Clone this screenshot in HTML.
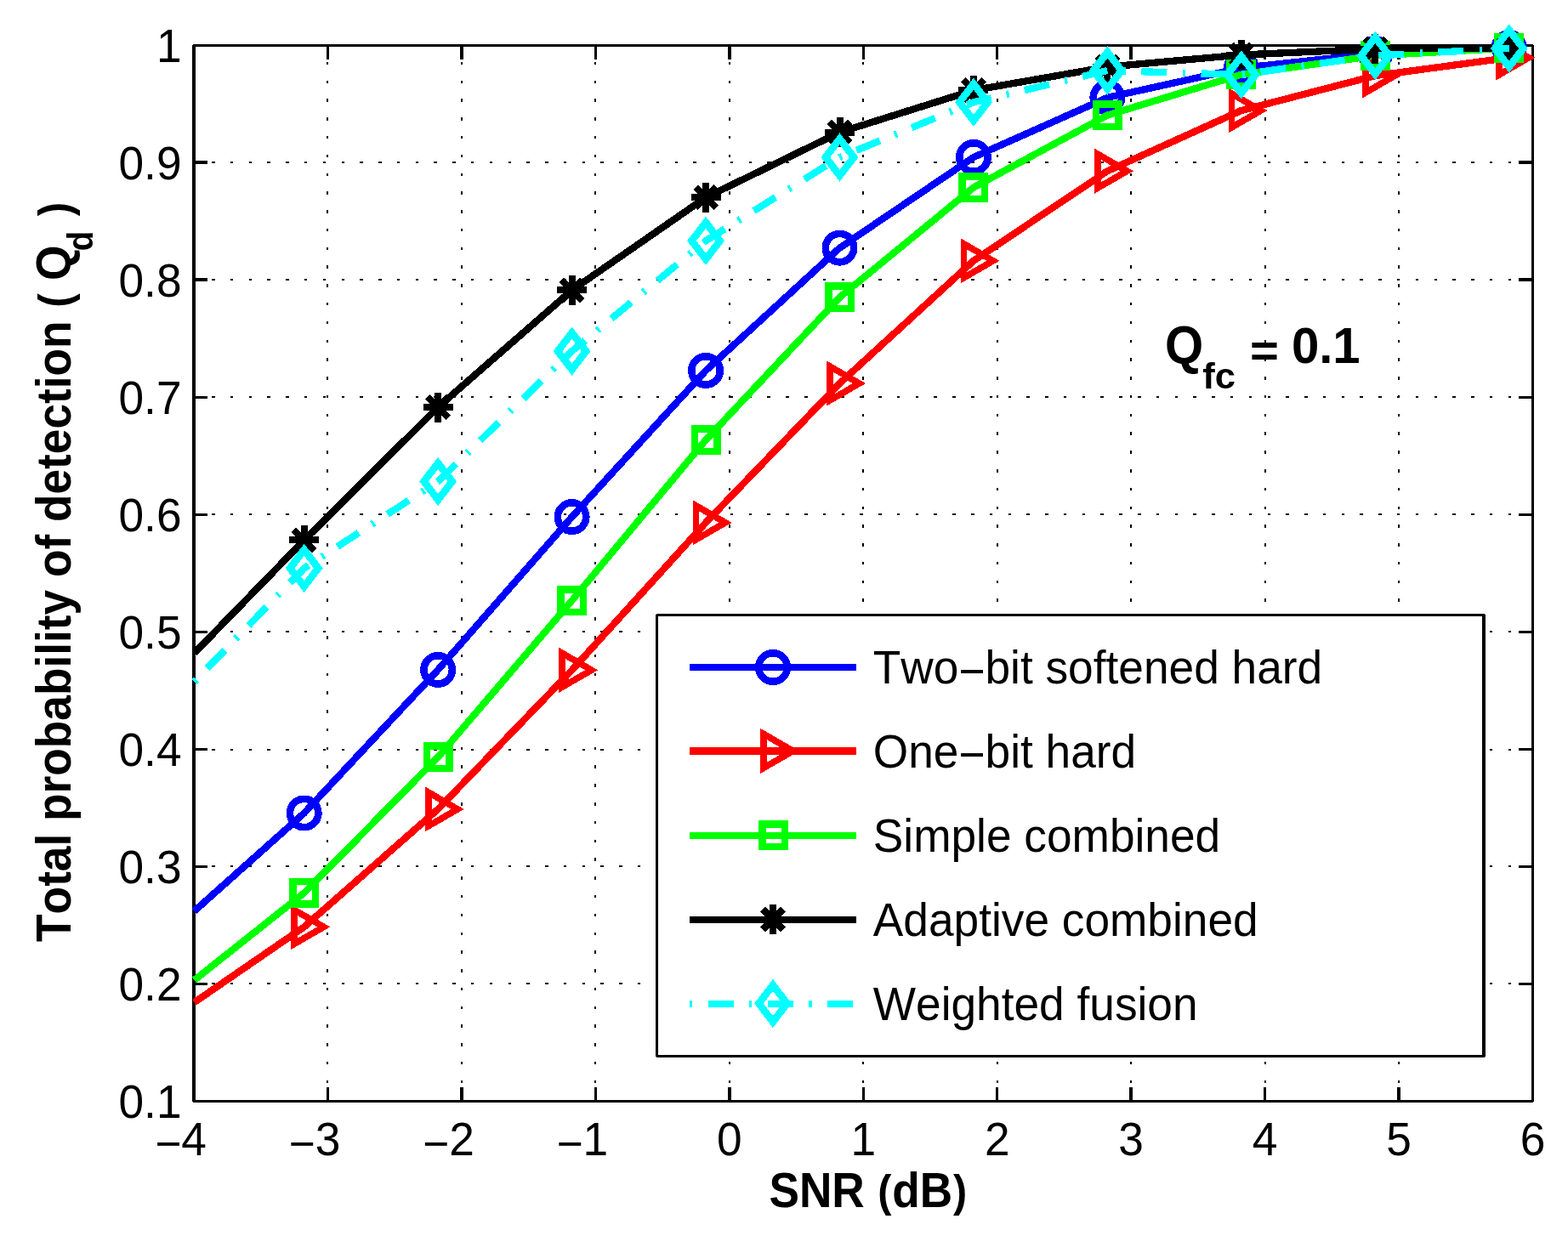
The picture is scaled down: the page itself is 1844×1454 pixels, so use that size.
<!DOCTYPE html>
<html lang="en"><head><meta charset="utf-8"><title>Total probability of detection vs SNR</title>
<style>html,body{margin:0;padding:0;background:#fff;overflow:hidden}svg{display:block}text{font-family:"Liberation Sans", sans-serif;fill:#000;font-kerning:none;white-space:pre}</style>
</head><body>
<svg xmlns="http://www.w3.org/2000/svg" width="1844" height="1454" viewBox="0 0 1844 1454">
<rect x="0" y="0" width="1844" height="1454" fill="#fff"/>
<g id="grid" stroke="#000" stroke-width="2" fill="none" shape-rendering="crispEdges" stroke-dasharray="3.5 18.28">
<line x1="385" y1="1296.03" x2="385" y2="53.5"/>
<line x1="543" y1="1296.03" x2="543" y2="53.5"/>
<line x1="700" y1="1296.03" x2="700" y2="53.5"/>
<line x1="858" y1="1296.03" x2="858" y2="53.5"/>
<line x1="1015" y1="1296.03" x2="1015" y2="53.5"/>
<line x1="1173" y1="1296.03" x2="1173" y2="53.5"/>
<line x1="1330" y1="1296.03" x2="1330" y2="53.5"/>
<line x1="1488" y1="1296.03" x2="1488" y2="53.5"/>
<line x1="1645" y1="1296.03" x2="1645" y2="53.5"/>
<line x1="227.27" y1="1157" x2="1802.5" y2="1157"/>
<line x1="227.27" y1="1019" x2="1802.5" y2="1019"/>
<line x1="227.27" y1="882" x2="1802.5" y2="882"/>
<line x1="227.27" y1="743" x2="1802.5" y2="743"/>
<line x1="227.27" y1="605" x2="1802.5" y2="605"/>
<line x1="227.27" y1="467" x2="1802.5" y2="467"/>
<line x1="227.27" y1="329" x2="1802.5" y2="329"/>
<line x1="227.27" y1="191" x2="1802.5" y2="191"/>
</g>
<g id="axes" fill="#000" shape-rendering="crispEdges">
<rect x="226" y="53" width="4" height="1243"/>
<rect x="1801" y="53" width="3" height="1243"/>
<rect x="227" y="52" width="1576" height="3"/>
<rect x="227" y="1294" width="1576" height="3"/>
<rect x="384" y="1279" width="3" height="16"/>
<rect x="384" y="55" width="3" height="15"/>
<rect x="541" y="1279" width="4" height="16"/>
<rect x="541" y="55" width="4" height="15"/>
<rect x="699" y="1279" width="3" height="16"/>
<rect x="699" y="55" width="3" height="15"/>
<rect x="856" y="1279" width="4" height="16"/>
<rect x="856" y="55" width="4" height="15"/>
<rect x="1014" y="1279" width="3" height="16"/>
<rect x="1014" y="55" width="3" height="15"/>
<rect x="1171" y="1279" width="3" height="16"/>
<rect x="1171" y="55" width="3" height="15"/>
<rect x="1328" y="1279" width="4" height="16"/>
<rect x="1328" y="55" width="4" height="15"/>
<rect x="1486" y="1279" width="3" height="16"/>
<rect x="1486" y="55" width="3" height="15"/>
<rect x="1643" y="1279" width="4" height="16"/>
<rect x="1643" y="55" width="4" height="15"/>
<rect x="230" y="1156" width="14" height="3"/>
<rect x="1786" y="1156" width="16" height="3"/>
<rect x="230" y="1018" width="14" height="3"/>
<rect x="1786" y="1018" width="16" height="3"/>
<rect x="230" y="880" width="14" height="3"/>
<rect x="1786" y="880" width="16" height="3"/>
<rect x="230" y="742" width="14" height="3"/>
<rect x="1786" y="742" width="16" height="3"/>
<rect x="230" y="604" width="14" height="3"/>
<rect x="1786" y="604" width="16" height="3"/>
<rect x="230" y="466" width="14" height="3"/>
<rect x="1786" y="466" width="16" height="3"/>
<rect x="230" y="327" width="14" height="4"/>
<rect x="1786" y="327" width="16" height="4"/>
<rect x="230" y="189" width="14" height="4"/>
<rect x="1786" y="189" width="16" height="4"/>
</g>
<g id="xticks">
<text text-anchor="middle" transform="translate(212.5 1359) scale(1 1.03)" font-size="53.24"><tspan dy="4.4">−</tspan><tspan dy="-4.4">4</tspan></text>
<text text-anchor="middle" transform="translate(369.95 1359) scale(1 1.03)" font-size="53.24"><tspan dy="4.4">−</tspan><tspan dy="-4.4">3</tspan></text>
<text text-anchor="middle" transform="translate(527.4 1359) scale(1 1.03)" font-size="53.24"><tspan dy="4.4">−</tspan><tspan dy="-4.4">2</tspan></text>
<text text-anchor="middle" transform="translate(684.85 1359) scale(1 1.03)" font-size="53.24"><tspan dy="4.4">−</tspan><tspan dy="-4.4">1</tspan></text>
<text text-anchor="middle" transform="translate(857.8 1359) scale(1 1.03)" font-size="53.24">0</text>
<text text-anchor="middle" transform="translate(1015.25 1359) scale(1 1.03)" font-size="53.24">1</text>
<text text-anchor="middle" transform="translate(1172.7 1359) scale(1 1.03)" font-size="53.24">2</text>
<text text-anchor="middle" transform="translate(1330.15 1359) scale(1 1.03)" font-size="53.24">3</text>
<text text-anchor="middle" transform="translate(1487.6 1359) scale(1 1.03)" font-size="53.24">4</text>
<text text-anchor="middle" transform="translate(1645.05 1359) scale(1 1.03)" font-size="53.24">5</text>
<text text-anchor="middle" transform="translate(1802.5 1359) scale(1 1.03)" font-size="53.24">6</text>
</g>
<g id="yticks">
<text text-anchor="end" transform="translate(213.5 1314.7) scale(1 1.03)" font-size="53.24">0.1</text>
<text text-anchor="end" transform="translate(213.5 1176.7) scale(1 1.03)" font-size="53.24">0.2</text>
<text text-anchor="end" transform="translate(213.5 1038.7) scale(1 1.03)" font-size="53.24">0.3</text>
<text text-anchor="end" transform="translate(213.5 900.7) scale(1 1.03)" font-size="53.24">0.4</text>
<text text-anchor="end" transform="translate(213.5 762.7) scale(1 1.03)" font-size="53.24">0.5</text>
<text text-anchor="end" transform="translate(213.5 624.7) scale(1 1.03)" font-size="53.24">0.6</text>
<text text-anchor="end" transform="translate(213.5 486.7) scale(1 1.03)" font-size="53.24">0.7</text>
<text text-anchor="end" transform="translate(213.5 348.7) scale(1 1.03)" font-size="53.24">0.8</text>
<text text-anchor="end" transform="translate(213.5 210.7) scale(1 1.03)" font-size="53.24">0.9</text>
<text text-anchor="end" transform="translate(213.5 72.7) scale(1 1.03)" font-size="53.24">1</text>
</g>
<text id="xlabel" font-weight="bold" transform="translate(904.4 1420.3) scale(1 1.08)" font-size="53.24"><tspan x="0">SNR </tspan><tspan x="127.9" dy="-1.11" font-size="48.5">(</tspan><tspan x="144.9" dy="1.11">dB</tspan><tspan x="216.6" dy="-1.11" font-size="48.5">)</tspan></text>
<text id="ylabel" font-weight="bold" transform="translate(83.1 1107.9) rotate(-90) scale(1 1.08)" font-size="53.24"><tspan x="0">Total probability of detection</tspan> <tspan x="746.1" dy="-0.55" font-size="49.5">(</tspan> <tspan x="778" dy="0.55">Q</tspan><tspan x="812.7" dy="23.52" font-size="38.5">d</tspan> <tspan x="853.7" dy="-24.07" font-size="49.5">)</tspan></text>
<g id="curves" fill="none" stroke-linejoin="round" stroke-linecap="butt" shape-rendering="crispEdges">
<g id="series-blue">
<path d="M228.5 1071.8L357.7 956.5L515.15 787.9L672.6 608.1L830.05 435.9L987.5 291.6L1144.95 185L1302.4 114.8L1459.85 80L1617.3 63L1774.75 56" stroke="#0000ff" stroke-width="8.3"/>
<circle cx="357.7" cy="956.5" r="16.7" fill="none" stroke="#0000ff" stroke-width="8.6" stroke-linejoin="miter" stroke-miterlimit="10"/>
<circle cx="515.15" cy="787.9" r="16.7" fill="none" stroke="#0000ff" stroke-width="8.6" stroke-linejoin="miter" stroke-miterlimit="10"/>
<circle cx="672.6" cy="608.1" r="16.7" fill="none" stroke="#0000ff" stroke-width="8.6" stroke-linejoin="miter" stroke-miterlimit="10"/>
<circle cx="830.05" cy="435.9" r="16.7" fill="none" stroke="#0000ff" stroke-width="8.6" stroke-linejoin="miter" stroke-miterlimit="10"/>
<circle cx="987.5" cy="291.6" r="16.7" fill="none" stroke="#0000ff" stroke-width="8.6" stroke-linejoin="miter" stroke-miterlimit="10"/>
<circle cx="1144.95" cy="185" r="16.7" fill="none" stroke="#0000ff" stroke-width="8.6" stroke-linejoin="miter" stroke-miterlimit="10"/>
<circle cx="1302.4" cy="114.8" r="16.7" fill="none" stroke="#0000ff" stroke-width="8.6" stroke-linejoin="miter" stroke-miterlimit="10"/>
<circle cx="1459.85" cy="80" r="16.7" fill="none" stroke="#0000ff" stroke-width="8.6" stroke-linejoin="miter" stroke-miterlimit="10"/>
<circle cx="1617.3" cy="63" r="16.7" fill="none" stroke="#0000ff" stroke-width="8.6" stroke-linejoin="miter" stroke-miterlimit="10"/>
<circle cx="1774.75" cy="56" r="16.7" fill="none" stroke="#0000ff" stroke-width="8.6" stroke-linejoin="miter" stroke-miterlimit="10"/>
</g>
<g id="series-red">
<path d="M228.5 1179.2L357.7 1090.4L515.15 951.9L672.6 788.3L830.05 614.8L987.5 451L1144.95 306.8L1302.4 201.2L1459.85 130L1617.3 89.1L1774.75 67.9" stroke="#ff0000" stroke-width="8.3"/>
<path d="M346.2 1070.48L380.7 1090.4L346.2 1110.32Z" fill="none" stroke="#ff0000" stroke-width="7.7" stroke-linejoin="miter" stroke-miterlimit="10"/>
<path d="M503.65 931.98L538.15 951.9L503.65 971.82Z" fill="none" stroke="#ff0000" stroke-width="7.7" stroke-linejoin="miter" stroke-miterlimit="10"/>
<path d="M661.1 768.38L695.6 788.3L661.1 808.22Z" fill="none" stroke="#ff0000" stroke-width="7.7" stroke-linejoin="miter" stroke-miterlimit="10"/>
<path d="M818.55 594.88L853.05 614.8L818.55 634.72Z" fill="none" stroke="#ff0000" stroke-width="7.7" stroke-linejoin="miter" stroke-miterlimit="10"/>
<path d="M976 431.08L1010.5 451L976 470.92Z" fill="none" stroke="#ff0000" stroke-width="7.7" stroke-linejoin="miter" stroke-miterlimit="10"/>
<path d="M1133.45 286.88L1167.95 306.8L1133.45 326.72Z" fill="none" stroke="#ff0000" stroke-width="7.7" stroke-linejoin="miter" stroke-miterlimit="10"/>
<path d="M1290.9 181.28L1325.4 201.2L1290.9 221.12Z" fill="none" stroke="#ff0000" stroke-width="7.7" stroke-linejoin="miter" stroke-miterlimit="10"/>
<path d="M1448.35 110.08L1482.85 130L1448.35 149.92Z" fill="none" stroke="#ff0000" stroke-width="7.7" stroke-linejoin="miter" stroke-miterlimit="10"/>
<path d="M1605.8 69.18L1640.3 89.1L1605.8 109.02Z" fill="none" stroke="#ff0000" stroke-width="7.7" stroke-linejoin="miter" stroke-miterlimit="10"/>
<path d="M1763.25 47.98L1797.75 67.9L1763.25 87.82Z" fill="none" stroke="#ff0000" stroke-width="7.7" stroke-linejoin="miter" stroke-miterlimit="10"/>
</g>
<g id="series-green">
<path d="M228.5 1153L357.7 1050.4L515.15 890.6L672.6 706.5L830.05 517.5L987.5 349.7L1144.95 220.5L1302.4 135.5L1459.85 87.7L1617.3 65.4L1774.75 56.5" stroke="#00ff00" stroke-width="8.3"/>
<rect x="344.45" y="1037.15" width="26.5" height="26.5" fill="none" stroke="#00ff00" stroke-width="8.5" stroke-linejoin="miter" stroke-miterlimit="10"/>
<rect x="501.9" y="877.35" width="26.5" height="26.5" fill="none" stroke="#00ff00" stroke-width="8.5" stroke-linejoin="miter" stroke-miterlimit="10"/>
<rect x="659.35" y="693.25" width="26.5" height="26.5" fill="none" stroke="#00ff00" stroke-width="8.5" stroke-linejoin="miter" stroke-miterlimit="10"/>
<rect x="816.8" y="504.25" width="26.5" height="26.5" fill="none" stroke="#00ff00" stroke-width="8.5" stroke-linejoin="miter" stroke-miterlimit="10"/>
<rect x="974.25" y="336.45" width="26.5" height="26.5" fill="none" stroke="#00ff00" stroke-width="8.5" stroke-linejoin="miter" stroke-miterlimit="10"/>
<rect x="1131.7" y="207.25" width="26.5" height="26.5" fill="none" stroke="#00ff00" stroke-width="8.5" stroke-linejoin="miter" stroke-miterlimit="10"/>
<rect x="1289.15" y="122.25" width="26.5" height="26.5" fill="none" stroke="#00ff00" stroke-width="8.5" stroke-linejoin="miter" stroke-miterlimit="10"/>
<rect x="1446.6" y="74.45" width="26.5" height="26.5" fill="none" stroke="#00ff00" stroke-width="8.5" stroke-linejoin="miter" stroke-miterlimit="10"/>
<rect x="1604.05" y="52.15" width="26.5" height="26.5" fill="none" stroke="#00ff00" stroke-width="8.5" stroke-linejoin="miter" stroke-miterlimit="10"/>
<rect x="1761.5" y="43.25" width="26.5" height="26.5" fill="none" stroke="#00ff00" stroke-width="8.5" stroke-linejoin="miter" stroke-miterlimit="10"/>
</g>
<g id="series-black">
<path d="M228.5 768.3L357.7 635.4L515.15 479L672.6 341.4L830.05 232.3L987.5 155.7L1144.95 106.2L1302.4 78.7L1459.85 64.5L1617.3 57.6L1774.75 56.4" stroke="#000000" stroke-width="8.3"/>
<path d="M340.2 635.4H375.2M357.7 617.9V652.9M345.54 623.24L369.86 647.56M345.54 647.56L369.86 623.24" fill="none" stroke="#000000" stroke-width="8" stroke-linejoin="miter" stroke-miterlimit="10"/>
<path d="M497.65 479H532.65M515.15 461.5V496.5M502.99 466.84L527.31 491.16M502.99 491.16L527.31 466.84" fill="none" stroke="#000000" stroke-width="8" stroke-linejoin="miter" stroke-miterlimit="10"/>
<path d="M655.1 341.4H690.1M672.6 323.9V358.9M660.44 329.24L684.76 353.56M660.44 353.56L684.76 329.24" fill="none" stroke="#000000" stroke-width="8" stroke-linejoin="miter" stroke-miterlimit="10"/>
<path d="M812.55 232.3H847.55M830.05 214.8V249.8M817.89 220.14L842.21 244.46M817.89 244.46L842.21 220.14" fill="none" stroke="#000000" stroke-width="8" stroke-linejoin="miter" stroke-miterlimit="10"/>
<path d="M970 155.7H1005M987.5 138.2V173.2M975.34 143.54L999.66 167.86M975.34 167.86L999.66 143.54" fill="none" stroke="#000000" stroke-width="8" stroke-linejoin="miter" stroke-miterlimit="10"/>
<path d="M1127.45 106.2H1162.45M1144.95 88.7V123.7M1132.79 94.04L1157.11 118.36M1132.79 118.36L1157.11 94.04" fill="none" stroke="#000000" stroke-width="8" stroke-linejoin="miter" stroke-miterlimit="10"/>
<path d="M1284.9 78.7H1319.9M1302.4 61.2V96.2M1290.24 66.54L1314.56 90.86M1290.24 90.86L1314.56 66.54" fill="none" stroke="#000000" stroke-width="8" stroke-linejoin="miter" stroke-miterlimit="10"/>
<path d="M1442.35 64.5H1477.35M1459.85 47V82M1447.69 52.34L1472.01 76.66M1447.69 76.66L1472.01 52.34" fill="none" stroke="#000000" stroke-width="8" stroke-linejoin="miter" stroke-miterlimit="10"/>
<path d="M1599.8 57.6H1634.8M1617.3 40.1V75.1M1605.14 45.44L1629.46 69.76M1605.14 69.76L1629.46 45.44" fill="none" stroke="#000000" stroke-width="8" stroke-linejoin="miter" stroke-miterlimit="10"/>
<path d="M1757.25 56.4H1792.25M1774.75 38.9V73.9M1762.59 44.24L1786.91 68.56M1762.59 68.56L1786.91 44.24" fill="none" stroke="#000000" stroke-width="8" stroke-linejoin="miter" stroke-miterlimit="10"/>
</g>
<g id="series-cyan">
<path d="M228.5 801.8L357.7 668.4L515.15 566.4L672.6 413.1L830.05 283.3L987.5 185L1144.95 120.3L1302.4 83L1459.85 87.9L1617.3 65.5L1774.75 57" stroke="#00ffff" stroke-width="8.3" stroke-dasharray="3.2 18.56 30 18.4"/>
<path d="M357.7 646.8L374.3 668.4L357.7 690L341.1 668.4Z" fill="none" stroke="#00ffff" stroke-width="8.6" stroke-linejoin="miter" stroke-miterlimit="10"/>
<path d="M515.15 544.8L531.75 566.4L515.15 588L498.55 566.4Z" fill="none" stroke="#00ffff" stroke-width="8.6" stroke-linejoin="miter" stroke-miterlimit="10"/>
<path d="M672.6 391.5L689.2 413.1L672.6 434.7L656 413.1Z" fill="none" stroke="#00ffff" stroke-width="8.6" stroke-linejoin="miter" stroke-miterlimit="10"/>
<path d="M830.05 261.7L846.65 283.3L830.05 304.9L813.45 283.3Z" fill="none" stroke="#00ffff" stroke-width="8.6" stroke-linejoin="miter" stroke-miterlimit="10"/>
<path d="M987.5 163.4L1004.1 185L987.5 206.6L970.9 185Z" fill="none" stroke="#00ffff" stroke-width="8.6" stroke-linejoin="miter" stroke-miterlimit="10"/>
<path d="M1144.95 98.7L1161.55 120.3L1144.95 141.9L1128.35 120.3Z" fill="none" stroke="#00ffff" stroke-width="8.6" stroke-linejoin="miter" stroke-miterlimit="10"/>
<path d="M1302.4 61.4L1319 83L1302.4 104.6L1285.8 83Z" fill="none" stroke="#00ffff" stroke-width="8.6" stroke-linejoin="miter" stroke-miterlimit="10"/>
<path d="M1459.85 66.3L1476.45 87.9L1459.85 109.5L1443.25 87.9Z" fill="none" stroke="#00ffff" stroke-width="8.6" stroke-linejoin="miter" stroke-miterlimit="10"/>
<path d="M1617.3 43.9L1633.9 65.5L1617.3 87.1L1600.7 65.5Z" fill="none" stroke="#00ffff" stroke-width="8.6" stroke-linejoin="miter" stroke-miterlimit="10"/>
<path d="M1774.75 35.4L1791.35 57L1774.75 78.6L1758.15 57Z" fill="none" stroke="#00ffff" stroke-width="8.6" stroke-linejoin="miter" stroke-miterlimit="10"/>
</g>
</g>
<g id="annot">
<text font-weight="bold" transform="translate(1370 426.9) scale(1 1.08)" font-size="58.1">Q</text>
<text font-weight="bold" transform="translate(1414.2 456.9) scale(1 0.98)" font-size="43.6">fc</text>
<text font-weight="bold" transform="translate(1470 430.6) scale(1 0.93)" font-size="58.1">=</text>
<text font-weight="bold" transform="translate(1518.9 426.9) scale(1 1.02)" font-size="58.1">0.1</text>
</g>
<g id="legend">
<g shape-rendering="crispEdges"><rect x="771" y="722" width="976" height="522" fill="#fff"/><path fill="#000" d="M772 722H1746V725H772ZM772 1241H1746V1244H772ZM771 723H774V1243H771ZM1743 723H1747V1243H1743Z"/></g>
<g fill="none" shape-rendering="crispEdges">
<rect x="811" y="781" width="196" height="8" fill="#0000ff"/>
<circle cx="909" cy="785" r="16.7" fill="none" stroke="#0000ff" stroke-width="8.6" stroke-linejoin="miter" stroke-miterlimit="10"/>
</g>
<text transform="translate(1026.8 804.2) scale(1 1.06)" font-size="53.24">Two<tspan dy="4.4">−</tspan><tspan dy="-4.4">bit softened hard</tspan></text>
<g fill="none" shape-rendering="crispEdges">
<rect x="811" y="879" width="196" height="9" fill="#ff0000"/>
<path d="M898.1 863.48L932.6 883.4L898.1 903.32Z" fill="none" stroke="#ff0000" stroke-width="7.7" stroke-linejoin="miter" stroke-miterlimit="10"/>
</g>
<text transform="translate(1026.8 902.7) scale(1 1.06)" font-size="53.24">One<tspan dy="4.4">−</tspan><tspan dy="-4.4">bit hard</tspan></text>
<g fill="none" shape-rendering="crispEdges">
<rect x="811" y="979" width="196" height="8" fill="#00ff00"/>
<rect x="896.25" y="969.25" width="26.5" height="26.5" fill="none" stroke="#00ff00" stroke-width="8.5" stroke-linejoin="miter" stroke-miterlimit="10"/>
</g>
<text transform="translate(1026.8 1002.2) scale(1 1.06)" font-size="53.24">Simple combined</text>
<g fill="none" shape-rendering="crispEdges">
<rect x="811" y="1078" width="196" height="8" fill="#000000"/>
<path d="M891.5 1082H926.5M909 1064V1099M896.84 1069.34L921.16 1093.66M896.84 1093.66L921.16 1069.34" fill="none" stroke="#000000" stroke-width="8" stroke-linejoin="miter" stroke-miterlimit="10"/>
</g>
<text transform="translate(1026.8 1101.2) scale(1 1.06)" font-size="53.24">Adaptive combined</text>
<g fill="none" shape-rendering="crispEdges">
<path d="M811 1181H1007" stroke="#00ffff" stroke-width="8" stroke-dasharray="3.2 18.56 30 18.4"/>
<path d="M909 1158.9L925.6 1180.5L909 1202.1L892.4 1180.5Z" fill="none" stroke="#00ffff" stroke-width="8.6" stroke-linejoin="miter" stroke-miterlimit="10"/>
</g>
<text transform="translate(1026.8 1200.2) scale(1 1.06)" font-size="53.24">Weighted fusion</text>
</g>
</svg>
</body></html>
